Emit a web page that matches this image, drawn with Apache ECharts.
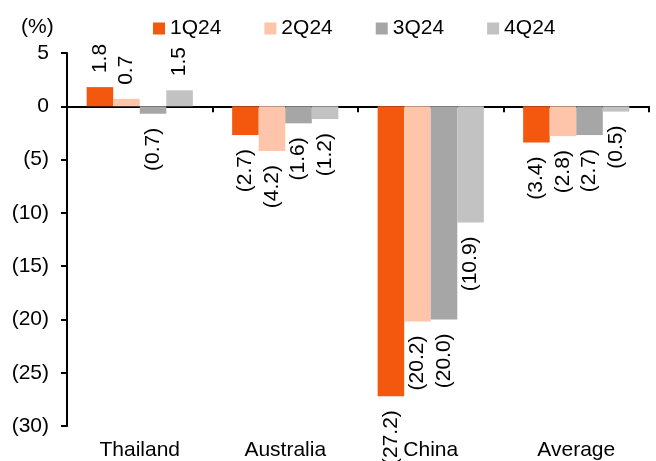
<!DOCTYPE html>
<html>
<head>
<meta charset="utf-8">
<script src="https://cdn.jsdelivr.net/npm/echarts@6/dist/echarts.min.js"></script>
<style>
  html, body { margin: 0; padding: 0; background: #fff; }
  #main { width: 656px; height: 461px; }
</style>
</head>
<body>
<div id="main"></div>
<script>
var categories = ['Thailand', 'Australia', 'China', 'Average'];
var seriesNames = ['1Q24', '2Q24', '3Q24', '4Q24'];
var q1 = [1.8, -2.7, -27.2, -3.4];
var q2 = [0.7, -4.2, -20.2, -2.8];
var q3 = [-0.7, -1.6, -20.0, -2.7];
var q4 = [1.5, -1.2, -10.9, -0.5];
var colors = ['#F4580E', '#FFC5AB', '#A6A6A6', '#C2C2C2'];

var FONT = "'Liberation Sans', Arial, sans-serif";
var FS = 21;

function fmt(v) {
  return v < 0 ? '(' + Math.abs(v).toFixed(1) + ')' : v.toFixed(1);
}

// label above positive bars, below negative ones, rotated
function toItems(arr) {
  return arr.map(function (v) {
    return {
      value: v,
      label: v >= 0
        ? { position: 'top', align: 'left' }
        : { position: 'bottom', align: 'right' }
    };
  });
}

var allData = [q1, q2, q3, q4];
var series = seriesNames.map(function (name, i) {
  return {
    name: name,
    type: 'bar',
    xAxisIndex: 0,
    barGap: '0%',
    barCategoryGap: '27%',
    itemStyle: { color: colors[i] },
    label: {
      show: true,
      rotate: 90,
      distance: 14,
      verticalAlign: 'middle',
      color: '#000',
      fontSize: FS,
      fontFamily: FONT,
      formatter: function (p) { return fmt(p.value); }
    },
    data: toItems(allData[i])
  };
});

var chart = echarts.init(document.getElementById('main'));
chart.setOption({
  animation: false,
  textStyle: { fontFamily: FONT },
  title: {
    text: '(%)',
    left: 16,
    top: 12,
    textStyle: { fontSize: FS, fontWeight: 'normal', color: '#000', fontFamily: FONT }
  },
  legend: {
    data: seriesNames,
    left: 148,
    top: 13,
    icon: 'rect',
    itemWidth: 12,
    itemHeight: 12,
    itemGap: 43,
    textStyle: { fontSize: FS, color: '#000', fontFamily: FONT }
  },
  grid: { left: 67, right: 7, top: 53, bottom: 35 },
  xAxis: [{
    type: 'category',
    data: categories,
    position: 'bottom',
    axisLine: { show: false, onZero: false },
    axisTick: { show: false },
    axisLabel: { margin: 14, fontSize: FS, color: '#000', fontFamily: FONT }
  }, {
    type: 'category',
    data: categories,
    position: 'bottom',
    axisLine: { show: true, onZero: true, lineStyle: { color: '#000', width: 2 } },
    axisTick: { show: true, length: 6, lineStyle: { color: '#000', width: 2 } },
    axisLabel: { show: false }
  }],
  yAxis: {
    type: 'value',
    min: -30,
    max: 5,
    interval: 5,
    splitLine: { show: false },
    axisLine: { show: true, lineStyle: { color: '#000', width: 2 } },
    axisTick: { show: true, length: 6, lineStyle: { color: '#000', width: 2 } },
    axisLabel: {
      margin: 18,
      fontSize: FS,
      color: '#000',
      fontFamily: FONT,
      formatter: function (v) { return v < 0 ? '(' + (-v) + ')' : String(v); }
    }
  },
  series: series
});
</script>
</body>
</html>
